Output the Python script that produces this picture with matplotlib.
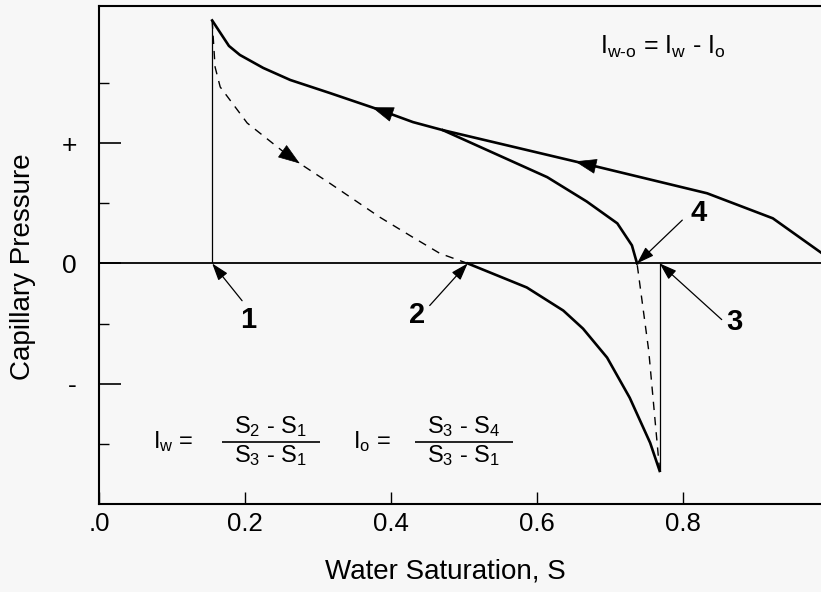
import numpy as np
import matplotlib
matplotlib.use('Agg')
import matplotlib.pyplot as plt

plt.rcParams['font.family'] = ['Liberation Sans', 'DejaVu Sans']
plt.rcParams['mathtext.fontset'] = 'custom'
plt.rcParams['mathtext.rm'] = 'Liberation Sans'
plt.rcParams['mathtext.it'] = 'Liberation Sans:italic'

# saturation end points of the cycle
s1, s2, s3, s4 = 0.155, 0.505, 0.768, 0.737
pc_top, pc_bottom = 2.02, -1.725

# primary drainage, from the right edge back to s1
drain_sw = [0.989, 0.923, 0.833, 0.668, 0.471, 0.430, 0.385, 0.316, 0.262, 0.225, 0.193, 0.178, 0.155]
drain_pc = [0.09, 0.375, 0.583, 0.825, 1.108, 1.175, 1.275, 1.417, 1.525, 1.625, 1.733, 1.808, 2.02]

# secondary drainage from s4, joining the primary curve
drain2_sw = [0.737, 0.730, 0.710, 0.668, 0.614, 0.471]
drain2_pc = [0.0, 0.15, 0.333, 0.515, 0.717, 1.108]

# spontaneous imbibition s1 -> s2 (dashed)
imb_sw = [0.155, 0.159, 0.166, 0.203, 0.262, 0.316, 0.385, 0.430, 0.467, 0.505]
imb_pc = [2.02, 1.633, 1.467, 1.167, 0.883, 0.667, 0.383, 0.217, 0.083, 0.0]

# forced imbibition s2 -> s3
forced_sw = [0.505, 0.586, 0.636, 0.663, 0.696, 0.727, 0.755, 0.768]
forced_pc = [0.0, -0.2, -0.392, -0.542, -0.783, -1.117, -1.492, -1.725]

# spontaneous drainage s3 -> s4 (dashed)
sdrain_sw = [0.768, 0.753, 0.737]
sdrain_pc = [-1.725, -0.725, 0.0]

xticks = [0, 0.2, 0.4, 0.6, 0.8]
xticklabels = ['.0', '0.2', '0.4', '0.6', '0.8']
yticks = [-1, 0, 1]
yticklabels = ['-', '0', '+']
yminor = [-1.5, -0.5, 0.5, 1.5]

fig = plt.figure(figsize=(8.21, 5.92), dpi=100, facecolor='#f7f7f7')
ax = fig.add_axes([99 / 821, 88 / 592, 722 / 821, 498 / 592])
ax.set_facecolor('#f7f7f7')

lw_main = 1.9
ax.axhline(0, color='k', lw=1.3)
ax.plot(drain_sw, drain_pc, color='k', lw=lw_main, solid_joinstyle='miter')
ax.plot(drain2_sw, drain2_pc, color='k', lw=lw_main)
ax.plot(forced_sw, forced_pc, color='k', lw=lw_main)
ax.plot(imb_sw, imb_pc, color='k', lw=1.0, dashes=(6, 5))
ax.plot(sdrain_sw, sdrain_pc, color='k', lw=1.0, dashes=(6, 5))
ax.vlines(s1, 0, pc_top, color='k', lw=0.9)
ax.vlines(s3, pc_bottom, 0, color='k', lw=0.9)


def curve_arrow(sw, pc, x_head, x_tail):
    order = np.argsort(sw)
    xs = np.asarray(sw)[order]
    ys = np.asarray(pc)[order]
    ax.annotate('', xy=(x_head, np.interp(x_head, xs, ys)),
                xytext=(x_tail, np.interp(x_tail, xs, ys)),
                arrowprops=dict(arrowstyle='-|>,head_length=0.8,head_width=0.28',
                                color='k', lw=0.5, mutation_scale=18,
                                shrinkA=0, shrinkB=0))


curve_arrow(drain_sw, drain_pc, 0.374, 0.40)
curve_arrow(drain_sw, drain_pc, 0.652, 0.68)
curve_arrow(imb_sw, imb_pc, 0.275, 0.255)

# numbered points along the zero line
labels = ['1', '2', '3', '4']
points = [(s1, 0), (s2, 0), (s3, 0), (s4, 0)]
tails = [(0.196, -0.31), (0.453, -0.35), (0.853, -0.467), (0.799, 0.36)]
text_pos = [(0.205, -0.47), (0.435, -0.43), (0.870, -0.49), (0.822, 0.42)]
for lab, pt, tl, tp in zip(labels, points, tails, text_pos):
    ax.annotate('', xy=pt, xytext=tl,
                arrowprops=dict(arrowstyle='-|>,head_length=0.75,head_width=0.25',
                                color='k', lw=0.9, mutation_scale=14,
                                shrinkA=0, shrinkB=0))
    ax.text(tp[0], tp[1], lab, fontsize=21, fontweight='bold', ha='center', va='center')

ax.text(0.686, 1.80, r'I$_{\text{w-o}}$ = I$_{\mathrm{w}}$ - I$_{\mathrm{o}}$',
        fontsize=18, ha='left', va='center')

# index formulas
bar_y = -1.483
ax.text(0.074, bar_y, r'I$_{\mathrm{w}}$ =', fontsize=17, ha='left', va='center')
ax.text(0.2355, -1.36, r'S$_{\mathrm{2}}$ - S$_{\mathrm{1}}$', fontsize=17, ha='center', va='center')
ax.text(0.2355, -1.60, r'S$_{\mathrm{3}}$ - S$_{\mathrm{1}}$', fontsize=17, ha='center', va='center')
ax.hlines(bar_y, 0.168, 0.303, color='k', lw=1.2)
ax.text(0.348, bar_y, r'I$_{\mathrm{o}}$ =', fontsize=17, ha='left', va='center')
ax.text(0.50, -1.36, r'S$_{\mathrm{3}}$ - S$_{\mathrm{4}}$', fontsize=17, ha='center', va='center')
ax.text(0.50, -1.60, r'S$_{\mathrm{3}}$ - S$_{\mathrm{1}}$', fontsize=17, ha='center', va='center')
ax.hlines(bar_y, 0.433, 0.567, color='k', lw=1.2)

ax.set_xlim(0, 0.989)
ax.set_ylim(-2.0, 2.14)
ax.set_xticks(xticks)
ax.set_xticklabels(xticklabels)
ax.set_yticks(yticks)
ax.set_yticklabels(yticklabels)
ax.set_yticks(yminor, minor=True)
ax.tick_params(axis='x', direction='in', length=9, width=1, labelsize=18.5, pad=6)
ax.tick_params(axis='y', which='major', direction='in', length=16, width=1.2, labelsize=19, pad=16)
ax.tick_params(axis='y', which='minor', direction='in', length=7, width=1)

for side in ['left', 'top', 'bottom']:
    ax.spines[side].set_linewidth(1.5)
ax.spines['right'].set_visible(False)

ax.set_xlabel('Water Saturation, S', fontsize=20)
ax.xaxis.set_label_coords((445 - 99) / 722, -(559 - 504) / 498)
ax.set_ylabel('Capillary Pressure', fontsize=20)
ax.yaxis.set_label_coords((36 - 99) / 722, (504 - 267) / 498)

fig.savefig('out.png', dpi=100, facecolor=fig.get_facecolor())
